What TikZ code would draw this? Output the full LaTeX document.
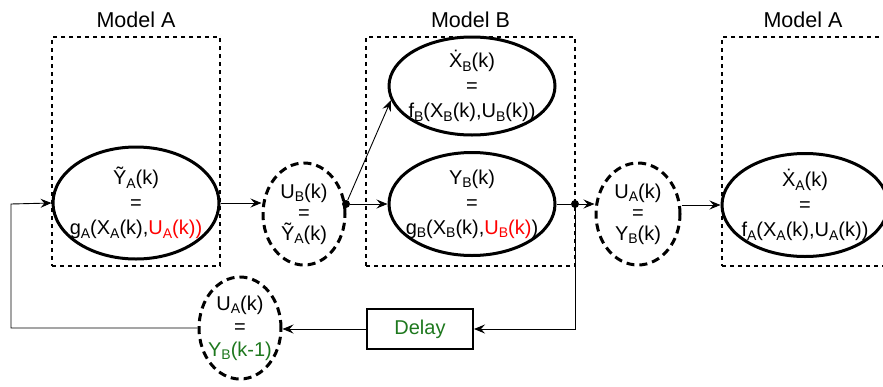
\documentclass[tikz,border=0pt]{standalone}
\usepackage{fontspec}
\setmainfont{Liberation Sans}
\usepackage{tikz}
\usetikzlibrary{positioning,shapes.geometric,arrows.meta}

\definecolor{delaygreen}{RGB}{30,120,30}
\newcommand{\sub}[1]{\raisebox{-0.35ex}{\fontsize{14}{14}\selectfont #1}}

\begin{document}
\begin{tikzpicture}[
x=1pt, y=-1pt,
node distance = 4pt and 20pt,
font=\fontsize{20}{25}\selectfont,
every node/.style={inner sep=0pt},
model/.style={ellipse, draw=black, line width=3pt, align=center, inner xsep=-20pt, inner ysep=-10pt,
  minimum width=166pt, minimum height=112pt},
link/.style={ellipse, draw=black, line width=3pt, dash pattern=on 8pt off 5pt, align=center,
  inner xsep=-6pt, inner ysep=-6pt, minimum width=82pt, minimum height=102pt, font=\fontsize{20}{21}\selectfont},
modelbox/.style={rectangle, draw=black, line width=1.5pt, dash pattern=on 4pt off 4pt},
modellabel/.style={font=\fontsize{21.5}{24}\selectfont},
delaybox/.style={rectangle, draw=black, line width=2pt, minimum width=106pt, minimum height=40pt},
junction/.style={circle, fill=black, minimum size=8pt},
wire/.style={line width=0.9pt, -{Stealth[length=11pt, width=9pt, inset=4pt]}}]

\useasboundingbox (0,0) rectangle (883,386);

% model boxes
\node[modelbox, minimum width=168pt, minimum height=229pt] (boxA) at (136,151.5) {};
\node[modelbox, minimum width=209pt, minimum height=229pt] (boxB) at (470.5,151.5) {};
\node[modelbox, minimum width=168pt, minimum height=229pt] (boxC) at (806,151.5) {};
\node[modellabel] (lblA) [above = 8pt of boxA] {Model A};
\node[modellabel] (lblB) [above = 8pt of boxB] {Model B};
\node[modellabel] (lblC) [above = 8pt of boxC.north, xshift=-3pt] {Model A};

% equations
\node[model] (ya) at (136,203) {\~{Y}\sub{A}(k)\\=\\g\sub{A}(X\sub{A}(k),\textcolor{red}{U\sub{A}(k))}};
\node[link] (ub) at (304,214) {U\sub{B}(k)\\=\\\~{Y}\sub{A}(k)};
\node[model, minimum width=166pt, minimum height=98pt] (xb) at (472,86) {\.{X}\sub{B}(k)\\=\\f\sub{B}(X\sub{B}(k),U\sub{B}(k))};
\node[model, minimum height=103pt] (yb) at (472,204) {Y\sub{B}(k)\\=\\g\sub{B}(X\sub{B}(k),\textcolor{red}{U\sub{B}(k)})};
\node[link, minimum width=84pt] (ua) at (638,214) {U\sub{A}(k)\\=\\Y\sub{B}(k)};
\node[model, minimum height=103pt] (xa) at (805,205) {\.{X}\sub{A}(k)\\=\\f\sub{A}(X\sub{A}(k),U\sub{A}(k))};

% feedback
\node[delaybox] (delay) at (420,329) {\textcolor{delaygreen}{Delay}};
\node[link, font=\fontsize{20}{23}\selectfont] (uaold) at (240,328) {U\sub{A}(k)\\=\\\textcolor{delaygreen}{Y\sub{B}(k-1)}};

\node[junction] (dotB) at (346,204) {};
\node[junction] (dotY) at (575,204) {};
\coordinate (corner) at (11,204);

\draw[wire] (ya.east) -- (ya.east -| ub.west);
\draw[wire] (dotB) -- (yb.west);
\draw[wire] (dotB) -- (xb.190);
\draw[line width=0.9pt] (yb.east) -- (dotY);
\draw[wire] (dotY) -- (dotY -| ua.west);
\draw[wire] (ua.east |- xa.west) -- (xa.west);
\draw[wire] (dotY) |- (delay.east);
\draw[wire] (delay.west) -- (delay.west -| uaold.east);
\draw[wire] (uaold.west) -| (corner) -- (ya.west);
\end{tikzpicture}
\end{document}
